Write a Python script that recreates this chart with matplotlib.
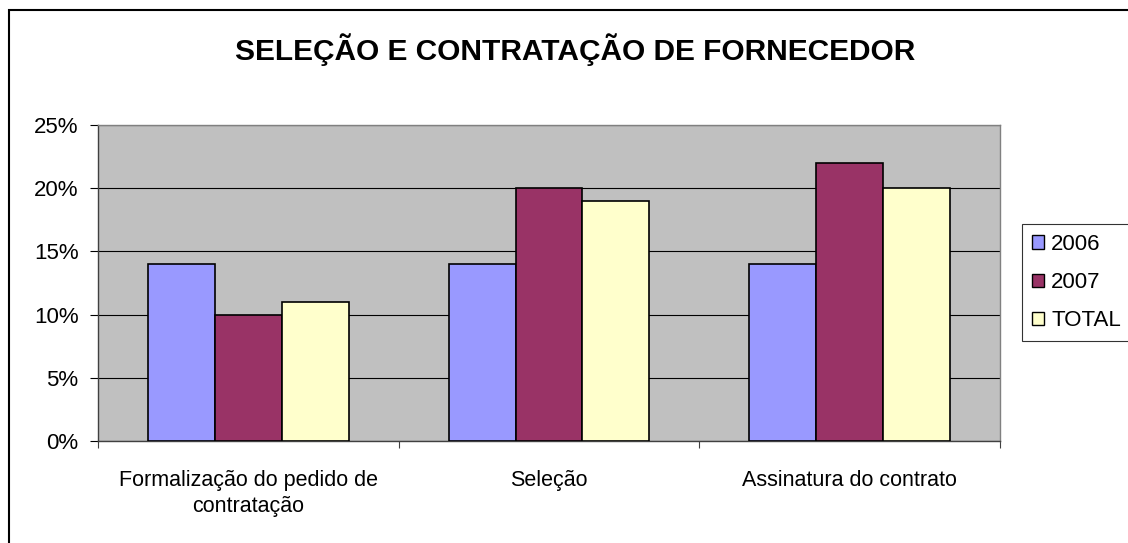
import numpy as np
import matplotlib
matplotlib.use("Agg")
import matplotlib.pyplot as plt
from matplotlib.patches import Rectangle, Patch
from matplotlib.ticker import FuncFormatter

categories = ["Formalização do pedido de\ncontratação", "Seleção", "Assinatura do contrato"]
series_names = ["2006", "2007", "TOTAL"]
v2006 = [14, 14, 14]
v2007 = [10, 20, 22]
vtotal = [11, 19, 20]
title = "SELEÇÃO E CONTRATAÇÃO DE FORNECEDOR"
yticks = [0, 5, 10, 15, 20, 25]

colors = ["#9999FF", "#993366", "#FFFFCC"]

W, H = 1128, 543
plt.rcParams['font.family'] = ['Liberation Sans', 'DejaVu Sans']
fig = plt.figure(figsize=(W / 100, H / 100), dpi=100)
fig.patch.set_facecolor("white")

ax = fig.add_axes([98 / W, (H - 441) / H, (1000 - 98) / W, (441 - 125) / H])
ax.set_facecolor("#C0C0C0")

x = np.arange(len(categories))
bw = 1 / 4.5
handles = []
for i, (vals, name) in enumerate(zip([v2006, v2007, vtotal], series_names)):
    ax.bar(x + (i - 1) * bw, vals, width=bw, color=colors[i], edgecolor="black",
           linewidth=1.2, zorder=3)
    handles.append(Patch(facecolor=colors[i], edgecolor="black", linewidth=1.0, label=name))

ax.set_xlim(-0.5, len(categories) - 0.5)
ax.set_ylim(0, 25)
ax.set_yticks(yticks)
ax.yaxis.set_major_formatter(FuncFormatter(lambda v, p: f"{int(v)}%"))
ax.grid(axis="y", color="black", linewidth=0.8, zorder=1)
ax.set_axisbelow(True)

ax.set_xticks(x)
ax.set_xticklabels(categories, fontsize=15.5, linespacing=1.3)
ax.set_xticks(np.arange(-0.5, len(categories)), minor=True)
ax.tick_params(axis="x", which="major", length=0, pad=21)
ax.tick_params(axis="x", which="minor", length=5, width=0.8, color="#404040", direction="out")
ax.tick_params(axis="y", length=6, width=0.8, direction="out", pad=8, labelsize=16)

for s in ["top", "right"]:
    ax.spines[s].set_color("#808080")
    ax.spines[s].set_linewidth(1.0)
for s in ["left", "bottom"]:
    ax.spines[s].set_color("#404040")
    ax.spines[s].set_linewidth(1.0)

fig.text(575 / W, 1 - 50 / H, title, ha="center", va="center", fontsize=21.5,
         fontweight="bold")

leg = fig.legend(handles=handles, loc="upper left", bbox_to_anchor=(1022 / W, 1 - 224 / H),
                 fontsize=16, frameon=True, fancybox=False, shadow=False,
                 handlelength=0.55, handleheight=0.55, handletextpad=0.32,
                 labelspacing=0.77, borderpad=0.45, borderaxespad=0)
leg.get_frame().set_edgecolor("black")
leg.get_frame().set_linewidth(0.8)

fig.add_artist(Rectangle((9 / W, -0.1), 1.2, (H - 9.5) / H + 0.1, transform=fig.transFigure,
                         fill=False, edgecolor="black", linewidth=1.5))

fig.savefig("out.png", dpi=100)
